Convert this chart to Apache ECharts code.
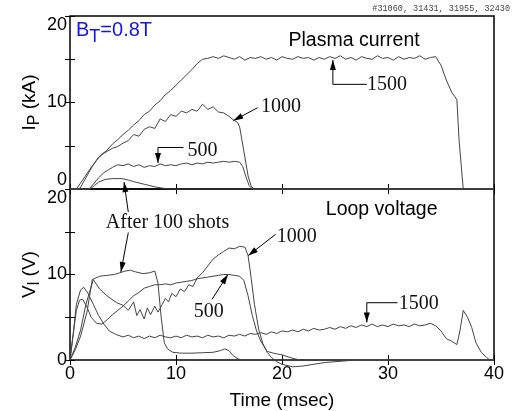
<!DOCTYPE html>
<html>
<head>
<meta charset="utf-8">
<script src="https://cdn.jsdelivr.net/npm/echarts@6/dist/echarts.min.js"></script>
<style>
  html, body { margin: 0; padding: 0; background: #fff; }
  #chart { width: 513px; height: 411px; }
</style>
</head>
<body>
<div id="chart"></div>
<script>
// plasma current (kA) vs time (msec)
const ip1500 = [[0,0],[0.6,0],[1.0,0.7],[1.5,1.6],[2.0,2.5],[2.5,3.3],[3.0,4.0],[3.5,4.5],[4.0,5.2],[4.5,5.7],
  [5.0,6.3],[5.5,6.8],[6.0,7.4],[6.5,7.9],[7.0,8.6],[7.5,9.0],[8.0,9.7],[8.5,10.2],[9.0,10.9],[9.5,11.4],
  [10.0,12.0],[10.5,12.6],[11.0,13.2],[11.5,13.8],[12.0,14.5],[12.5,15.0],[13.0,15.1],[13.5,15.3],[14.0,15.1],[14.5,15.4],
  [15.0,15.2],[15.5,15.0],[16.0,15.3],[16.5,14.9],[17.0,15.2],[17.5,15.1],[18.0,15.3],[18.5,15.0],[19.0,15.2],[19.5,14.9],
  [20.0,15.3],[20.5,15.1],[21.0,15.0],[21.5,15.3],[22.0,15.1],[22.5,15.2],[23.0,14.9],[23.5,15.2],[24.0,15.0],[24.5,15.3],
  [25.0,15.1],[25.5,15.4],[26.0,15.0],[26.5,15.2],[27.0,14.9],[27.5,15.3],[28.0,15.1],[28.5,15.0],[29.0,15.4],[29.5,15.1],
  [30.0,15.2],[30.5,14.9],[31.0,15.3],[31.5,15.0],[32.0,15.2],[32.5,15.1],[33.0,15.4],[33.5,15.0],[34.0,15.2],[34.5,15.3],
  [35.0,14.3],[35.5,12.6],[36.0,11.2],[36.3,10.7],[36.5,10.3],[36.7,5.7],[37.0,1.4],[37.1,0],[40,0]];
const ip1000 = [[0,0],[0.9,0],[1.5,1.3],[2.1,2.6],[2.7,3.7],[3.3,4.2],[4.0,4.7],[4.5,4.9],[5.0,5.3],[5.5,5.6],
  [6.0,6.3],[6.5,6.1],[7.0,6.9],[7.5,7.2],[8.0,7.0],[8.5,8.1],[9.0,7.8],[9.5,8.6],[10.0,8.4],[10.5,9.0],
  [11.0,8.8],[11.5,9.2],[12.0,9.0],[12.5,9.8],[13.0,9.2],[13.5,9.5],[14.0,8.9],[14.5,8.8],[15.0,8.4],[15.4,8.0],
  [15.8,7.7],[16.0,7.2],[16.2,5.8],[16.5,3.7],[16.8,1.5],[17.1,0.3],[17.4,0],[40,0]];
const ip500 = [[0,0],[1.8,0],[2.3,0.7],[2.7,1.3],[3.2,1.9],[3.6,2.2],[4.0,2.5],[4.5,2.8],[5.0,2.7],[5.5,2.9],
  [6.0,2.6],[6.5,2.8],[7.0,2.5],[7.5,2.7],[8.0,2.6],[8.5,2.9],[9.0,2.7],[9.5,2.8],[10.0,2.7],[10.5,2.9],
  [11.0,3.0],[11.5,2.8],[12.0,3.0],[12.5,2.9],[13.0,3.1],[13.5,3.0],[14.0,3.1],[14.5,3.2],[15.0,3.1],[15.5,3.2],
  [16.0,3.1],[16.3,2.6],[16.6,1.4],[16.9,0.4],[17.2,0],[40,0]];
const ipAfter = [[0,0],[1.9,0],[2.3,0.4],[2.7,0.8],[3.3,1.1],[4.0,1.2],[4.9,1.2],[5.3,1.1],[5.6,1.0],[6.0,0.85],
  [6.5,0.7],[7.0,0.55],[7.5,0.4],[8.0,0.25],[8.7,0.1],[9.5,0],[40,0]];

// loop voltage (V) vs time (msec)
const vl1500 = [[0,0],[0.3,3.0],[0.6,6.5],[1.0,8.2],[1.3,8.5],[1.7,7.8],[2.2,6.5],[2.7,5.2],[3.2,4.2],[3.7,3.4],
  [4.3,3.0],[5.0,2.7],[5.5,2.9],[6.0,2.6],[6.5,2.8],[7.0,2.5],[7.5,2.8],[8.0,2.6],[8.5,2.9],[9.0,2.7],
  [9.5,2.6],[10.0,2.8],[10.5,2.6],[11.0,2.9],[11.5,2.7],[12.0,2.8],[12.5,2.6],[13.0,2.9],[13.5,2.7],[14.0,2.8],
  [14.5,2.6],[15.0,2.9],[15.5,2.8],[16.0,3.0],[16.5,2.8],[17.0,3.1],[17.5,3.0],[18.0,3.2],[18.5,3.0],[19.0,3.3],
  [19.5,3.1],[20.0,3.4],[20.5,3.3],[21.0,3.5],[21.5,3.3],[22.0,3.6],[22.5,3.4],[23.0,3.7],[23.5,3.5],[24.0,3.6],
  [24.5,3.8],[25.0,3.6],[25.5,3.9],[26.0,3.7],[26.5,4.0],[27.0,3.8],[27.5,4.1],[28.0,3.9],[28.5,4.2],[29.0,3.9],
  [29.5,4.1],[30.0,3.9],[30.5,4.2],[31.0,4.0],[31.5,4.1],[32.0,3.9],[32.5,4.2],[33.0,4.0],[33.5,4.1],[34.0,4.3],
  [34.5,4.0],[35.0,3.4],[35.5,2.5],[36.0,2.2],[36.5,1.8],[36.8,3.5],[37.1,5.8],[37.5,5.0],[37.9,3.8],[38.3,2.0],
  [38.8,0.9],[39.3,0.3],[39.6,0],[40,0]];
const vl1000 = [[0,0],[0.5,1.5],[1.0,3.5],[1.5,6.5],[2.2,9.4],[2.8,8.3],[3.5,7.5],[4.4,6.7],[5.0,6.4],[5.5,5.8],
  [6.0,6.8],[6.3,5.2],[6.6,5.9],[7.0,4.8],[7.3,6.1],[7.6,5.3],[8.0,6.3],[8.3,5.6],[8.7,6.5],[9.0,7.2],
  [9.3,6.8],[9.6,7.8],[10.0,7.4],[10.4,8.3],[10.8,8.0],[11.2,8.8],[11.6,8.6],[12.0,9.6],[12.5,10.2],[13.0,11.0],
  [13.5,11.8],[14.0,12.3],[14.5,12.7],[15.0,13.1],[15.5,13.0],[16.0,13.3],[16.5,13.2],[16.8,12.2],[17.1,9.5],[17.4,6.5],
  [17.8,3.6],[18.2,1.9],[18.6,0.9],[19.0,0.3],[19.5,-0.2],[20.0,-0.5],[21.0,-0.8],[22.0,-0.7],[23.0,-0.5],[24.0,-0.3],
  [25.0,-0.2],[26.0,-0.1],[27.0,0],[40,0]];
const vl500 = [[0,0],[0.3,3.0],[0.6,5.8],[0.9,7.0],[1.2,7.1],[1.6,6.2],[2.0,5.0],[2.5,4.3],[3.0,4.2],[3.5,4.7],
  [4.0,5.3],[4.5,5.8],[5.0,6.3],[5.5,6.9],[6.0,7.5],[6.5,7.9],[7.0,8.4],[7.5,8.6],[8.0,8.8],[8.5,8.8],
  [9.0,8.9],[9.5,8.8],[10.0,9.0],[10.5,9.1],[11.0,9.2],[11.5,9.3],[12.0,9.5],[12.5,9.6],[13.0,9.7],[13.5,9.8],
  [14.0,9.9],[14.5,10.0],[15.0,10.0],[15.5,9.9],[16.0,9.8],[16.4,9.3],[16.8,7.5],[17.2,5.2],[17.6,3.4],[18.0,2.2],
  [18.6,1.0],[19.2,0.8],[20.0,0.6],[21.0,0.2],[21.7,0],[40,0]];
const vlAfter = [[0,0],[0.5,1.2],[1.0,2.8],[1.6,5.6],[2.1,9.4],[2.8,9.8],[3.5,9.9],[4.2,10.0],[4.7,10.2],[5.2,10.4],
  [5.7,10.5],[6.2,10.3],[6.9,10.1],[7.5,10.2],[8.0,10.4],[8.3,9.0],[8.6,5.0],[8.9,2.0],[9.2,1.3],[9.7,0.9],
  [10.5,0.8],[11.5,0.8],[12.5,0.85],[13.5,0.9],[14.2,1.1],[14.6,1.3],[15.0,1.1],[15.4,0.5],[15.9,0.1],[16.5,0],[40,0]];

const yTicks = [0, 10, 20];

// annotation leaders: [panel, time, value] points, arrow at the last point
const leaders = [
  [[0, 28.0, 12.1], [0, 24.8, 12.1], [0, 24.8, 14.9]],
  [[0, 17.7, 9.4], [0, 15.4, 7.9]],
  [[0, 10.7, 4.8], [0, 8.3, 4.8], [0, 8.3, 3.0]],
  [[1, 5.5, 17.3], [0, 5.1, 0.8]],
  [[1, 5.5, 14.9], [1, 4.8, 10.3]],
  [[1, 19.4, 14.7], [1, 16.8, 12.2]],
  [[1, 13.4, 7.1], [1, 14.9, 10.0]],
  [[1, 30.9, 6.7], [1, 28.0, 6.7], [1, 28.0, 4.4]],
];
const tags = [
  [0, 29.9, 12.1, '1500'], [0, 19.9, 9.5, '1000'], [0, 12.5, 4.4, '500'],
  [1, 9.2, 16.0, 'After 100 shots'], [1, 21.4, 14.4, '1000'], [1, 13.1, 5.6, '500'], [1, 32.9, 6.6, '1500'],
];
const titles = [[0, 26.8, 17.1, 'Plasma current'], [1, 29.4, 17.6, 'Loop voltage']];

const chart = echarts.init(document.getElementById('chart'));

const tickStyle = { show: true, inside: true, length: 5, lineStyle: { color: '#000', width: 1 } };
const subRich = {
  a: { fontSize: 19, lineHeight: 20, verticalAlign: 'top', fontFamily: 'Liberation Sans', color: '#000' },
  b: { fontSize: 16, lineHeight: 16, padding: [7, 0, 0, 0], verticalAlign: 'top', fontFamily: 'Liberation Sans', color: '#000' },
};

function xAx(grid, pos, labels) {
  return {
    type: 'value', gridIndex: grid, position: pos, min: 0, max: 40, interval: 10,
    axisLine: { show: false }, splitLine: { show: false }, axisTick: tickStyle,
    axisLabel: { show: labels, margin: 5, color: '#000', fontSize: 18, fontFamily: 'Liberation Sans' },
  };
}
function yAx(grid, pos, name) {
  return {
    type: 'value', gridIndex: grid, position: pos, min: 0, max: 20, interval: 5,
    axisLine: { show: false }, splitLine: { show: false }, axisTick: tickStyle,
    axisLabel: {
      show: !!name, margin: 3, color: '#000', fontSize: 18, fontFamily: 'Liberation Sans',
      formatter: v => (yTicks.includes(v) ? String(v) : ''),
      verticalAlignMinLabel: grid === 0 ? 'bottom' : 'middle',
      verticalAlignMaxLabel: 'top',
    },
    name: name || '', nameLocation: 'middle', nameRotate: 90, nameGap: 30,
    nameMoveOverlap: false,
    nameTextStyle: { rich: subRich },
  };
}

const line = (data, x, y) => ({
  type: 'line', data, xAxisIndex: x, yAxisIndex: y, showSymbol: false, clip: false,
  lineStyle: { color: '#444', width: 1 }, silent: true,
});

chart.setOption({
  animation: false,
  backgroundColor: '#fff',
  grid: [
    { left: 70, top: 16, width: 424, height: 173, show: true, borderColor: '#000', borderWidth: 1.5 },
    { left: 70, top: 189, width: 424, height: 172, show: true, borderColor: '#000', borderWidth: 1.5 },
  ],
  xAxis: [
    xAx(0, 'bottom', false), xAx(0, 'top', false),
    Object.assign(xAx(1, 'bottom', true), {
      name: 'Time (msec)', nameLocation: 'middle', nameGap: 31,
      nameTextStyle: { fontSize: 19, fontFamily: 'Liberation Sans', color: '#000' },
    }),
    xAx(1, 'top', false),
  ],
  yAxis: [
    yAx(0, 'left', '{a|I}{b|P}{a| (kA)}'), yAx(0, 'right', null),
    yAx(1, 'left', '{a|V}{b|l}{a| (V)}'), yAx(1, 'right', null),
  ],
  series: [
    line(ip1500, 0, 0), line(ip1000, 0, 0), line(ip500, 0, 0), line(ipAfter, 0, 0),
    line(vl1500, 2, 2), line(vl1000, 2, 2), line(vl500, 2, 2), line(vlAfter, 2, 2),
  ],
});

function toPx(g, t, v) {
  return chart.convertToPixel({ xAxisIndex: g * 2, yAxisIndex: g * 2 }, [t, v]);
}

const graphics = [];
leaders.forEach(pts => {
  const p = pts.map(q => toPx(q[0], q[1], q[2]));
  graphics.push({ type: 'polyline', shape: { points: p }, style: { stroke: '#000', lineWidth: 1, fill: null } });
  const a = p[p.length - 2], b = p[p.length - 1];
  const dx = b[0] - a[0], dy = b[1] - a[1], len = Math.hypot(dx, dy);
  const ux = dx / len, uy = dy / len;
  const bx = b[0] - ux * 10, by = b[1] - uy * 10;
  graphics.push({
    type: 'polygon',
    shape: { points: [b, [bx - uy * 3, by + ux * 3], [bx + uy * 3, by - ux * 3]] },
    style: { fill: '#000' },
  });
});
tags.forEach(([g, t, v, s]) => {
  const p = toPx(g, t, v);
  graphics.push({
    type: 'text', x: p[0], y: p[1],
    style: { text: s, font: '20px "Liberation Serif"', fill: '#111', align: 'center', verticalAlign: 'middle' },
  });
});
titles.forEach(([g, t, v, s]) => {
  const p = toPx(g, t, v);
  graphics.push({
    type: 'text', x: p[0], y: p[1],
    style: { text: s, font: '19.5px "Liberation Sans"', fill: '#000', align: 'center', verticalAlign: 'middle' },
  });
});
graphics.push({
  type: 'text', x: 76, y: 20,
  style: {
    text: '{a|B}{b|T}{a|=0.8T}', align: 'left', verticalAlign: 'top',
    rich: {
      a: { fontSize: 20, lineHeight: 22, verticalAlign: 'top', fontFamily: 'Liberation Sans', fill: '#1414f0' },
      b: { fontSize: 18, lineHeight: 18, padding: [8, 0, 0, 0], verticalAlign: 'top', fontFamily: 'Liberation Sans', fill: '#1414f0' },
    },
  },
});
graphics.push({
  type: 'text', x: 510, y: 9,
  style: { text: '#31060, 31431, 31955, 32430', font: '8.5px "Liberation Mono"', fill: '#444', align: 'right', verticalAlign: 'middle' },
});
chart.setOption({ graphic: graphics });
</script>
</body>
</html>
